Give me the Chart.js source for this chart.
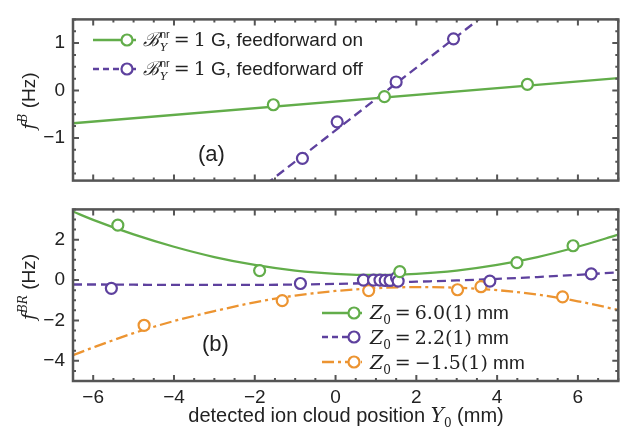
<!DOCTYPE html>
<html>
<head>
<meta charset="utf-8">
<script src="https://cdn.jsdelivr.net/npm/chart.js@4.4.1/dist/chart.umd.min.js"></script>
<style>
  body { margin: 0; background: #fff; }
  #wrap { position: relative; width: 626px; height: 434px; font-family: "Liberation Sans", Arial, sans-serif; color: #222; }
  canvas { position: absolute; left: 0; }
  .lbl { position: absolute; white-space: nowrap; font-size: 19px; line-height: 22px; }
  .m { font-family: "DejaVu Serif", "Liberation Serif", serif; font-style: italic; }
  .r { font-family: "DejaVu Serif", "Liberation Serif", serif; }
  .eq { margin: 0 4px; }
  .ss { display: inline-flex; flex-direction: column; font-size: 11px; line-height: 13px; vertical-align: 8px; margin-left: 1px; }
  .rot { transform: translate(-50%, -50%) rotate(-90deg); }
  sub { font-size: 12px; }
  sup { font-size: 12px; }
</style>
</head>
<body>
<div id="wrap">
  <canvas id="top" width="626" height="200" style="top:0"></canvas>
  <canvas id="bot" width="626" height="244" style="top:190px"></canvas>

  <div class="lbl rot" style="left:26px; top:101px;"><span class="m">f</span><sup class="m">B</sup> (Hz)</div>
  <div class="lbl rot" style="left:26px; top:287px;"><span class="m">f</span><sup class="m">BR</sup> (Hz)</div>
  <div class="lbl" style="left:346px; top:404px; transform:translateX(-50%); font-size:20px;">detected ion cloud position <span class="m">Y</span><sub class="r">0</sub> (mm)</div>

  <div class="lbl" style="left:143px; top:28px;"><span class="m">ℬ</span><span class="ss"><span>nr</span><span class="m">Y</span></span><span class="r eq">=</span><span class="r">1</span> G, feedforward on</div>
  <div class="lbl" style="left:143px; top:57px;"><span class="m">ℬ</span><span class="ss"><span>nr</span><span class="m">Y</span></span><span class="r eq">=</span><span class="r">1</span> G, feedforward off</div>

  <div class="lbl" style="left:370px; top:301px;"><span class="m">Z</span><sub class="r">0</sub><span class="r eq">=</span><span class="r">6.0(1)</span> mm</div>
  <div class="lbl" style="left:370px; top:326px;"><span class="m">Z</span><sub class="r">0</sub><span class="r eq">=</span><span class="r">2.2(1)</span> mm</div>
  <div class="lbl" style="left:370px; top:351px;"><span class="m">Z</span><sub class="r">0</sub><span class="r eq">=</span><span class="r">−1.5(1)</span> mm</div>

  <div class="lbl" style="left:198px; top:141px; font-size:22px; line-height:26px;">(a)</div>
  <div class="lbl" style="left:202px; top:331px; font-size:22px; line-height:26px;">(b)</div>
</div>

<script>
// colours
const GREEN = '#62ad4a';
const PURPLE = '#5e419e';
const ORANGE = '#ec9431';

// shared x axis
const xRange = [-6.5, 7];
const xTicks = [-6, -4, -2, 0, 2, 4, 6];

// panel (a): f^B
const aRange = [-1.9, 1.5];
const aTicks = [-1, 0, 1];
const onX = [-1.54, 1.21, 4.75];
const onY = [-0.30, -0.13, 0.13];
const onFitX = [-6.5, 7];
const onFitY = [-0.69, 0.26];
const offX = [-0.82, 0.04, 1.50, 2.92];
const offY = [-1.43, -0.66, 0.18, 1.09];
const offFitX = [-2, 4];
const offFitY = [-2.16, 1.80];

// panel (b): f^BR
const bRange = [-5, 3.5];
const bTicks = [-4, -2, 0, 2];
const z60X = [-5.39, -1.88, 1.59, 4.49, 5.88];
const z60Y = [2.72, 0.47, 0.42, 0.86, 1.70];
const z22X = [-5.55, -0.87, 0.69, 0.94, 1.10, 1.23, 1.35, 1.51, 1.55, 3.82, 6.33];
const z22Y = [-0.41, -0.17, 0.0, 0.0, 0.0, -0.02, -0.02, 0.12, -0.05, -0.05, 0.31];
const z15X = [-4.74, -1.32, 0.82, 3.02, 3.60, 5.62];
const z15Y = [-2.24, -1.02, -0.52, -0.48, -0.33, -0.83];
// fitted curves
const curveX = [-6.5, -6, -5, -4, -3, -2, -1, 0, 1, 2, 3, 4, 5, 6, 7];
const z60Fit = [3.39, 2.98, 2.26, 1.65, 1.14, 0.75, 0.47, 0.31, 0.25, 0.31, 0.47, 0.75, 1.14, 1.65, 2.25];
const z22Fit = [-0.22, -0.22, -0.23, -0.24, -0.24, -0.24, -0.22, -0.19, -0.14, -0.08, -0.02, 0.06, 0.15, 0.26, 0.38];
const z15Fit = [-3.72, -3.34, -2.63, -2.03, -1.54, -1.10, -0.77, -0.54, -0.40, -0.35, -0.38, -0.50, -0.72, -1.05, -1.48];

const pts = (xs, ys) => xs.map((x, i) => ({ x: x, y: ys[i] }));
const minus = v => String(v).replace('-', '\u2212');

function pointSet(xs, ys, color) {
  return {
    data: pts(xs, ys), showLine: false, order: 0,
    pointRadius: 5.5, pointHoverRadius: 5.5, pointBorderWidth: 2.2,
    pointBorderColor: color, pointBackgroundColor: '#fff'
  };
}
function lineSet(xs, ys, color, dash) {
  return {
    data: pts(xs, ys), showLine: true, order: 1, pointRadius: 0,
    borderColor: color, borderWidth: 2.3, borderDash: dash || [],
    tension: 0.4, cubicInterpolationMode: 'monotone'
  };
}

// frame, inward ticks and legend samples
const frameTicks = {
  id: 'frameTicks',
  afterDatasetsDraw(chart, args, opts) {
    const { ctx, chartArea: a, scales } = chart;
    const xs = scales.x, ys = scales.y;
    ctx.save();
    ctx.strokeStyle = '#555';
    ctx.lineWidth = 2;
    ctx.beginPath();
    for (let v = -6.5; v <= 7.001; v += 0.5) {
      const p = xs.getPixelForValue(v);
      const len = xTicks.includes(v) ? 6 : 3;
      ctx.moveTo(p, a.top); ctx.lineTo(p, a.top + len);
      ctx.moveTo(p, a.bottom); ctx.lineTo(p, a.bottom - len);
    }
    const [lo, hi] = opts.range;
    for (let v = Math.ceil(lo / opts.minor) * opts.minor; v <= hi + 1e-6; v += opts.minor) {
      const p = ys.getPixelForValue(v);
      const len = opts.ticks.some(t => Math.abs(t - v) < 1e-6) ? 6 : 3;
      ctx.moveTo(a.left, p); ctx.lineTo(a.left + len, p);
      ctx.moveTo(a.right, p); ctx.lineTo(a.right - len, p);
    }
    ctx.stroke();
    ctx.lineWidth = 2.5;
    ctx.strokeRect(a.left, a.top, a.right - a.left, a.bottom - a.top);

    // legend samples
    opts.legend.forEach(item => {
      ctx.strokeStyle = item.color;
      ctx.lineWidth = 2.3;
      ctx.setLineDash(item.dash || []);
      ctx.beginPath();
      ctx.moveTo(item.x0, item.y); ctx.lineTo(item.x1, item.y);
      ctx.stroke();
      ctx.setLineDash([]);
      ctx.lineWidth = 2.2;
      ctx.fillStyle = '#fff';
      ctx.beginPath();
      ctx.arc(item.cx, item.y, 5.5, 0, Math.PI * 2);
      ctx.fill(); ctx.stroke();
    });
    ctx.restore();
  }
};

const tickFont = { family: '"Liberation Sans", Arial, sans-serif', size: 19 };

function makeChart(id, datasets, yRange, yTicks, minor, legend, showX) {
  return new Chart(document.getElementById(id), {
    type: 'scatter',
    data: { datasets: datasets },
    options: {
      responsive: false,
      animation: false,
      events: [],
      layout: { padding: { top: 10, bottom: showX ? 0 : 10, left: 0, right: 1 } },
      plugins: {
        legend: { display: false },
        tooltip: { enabled: false },
        frameTicks: { range: yRange, ticks: yTicks, minor: minor, legend: legend }
      },
      scales: {
        x: {
          type: 'linear', min: xRange[0], max: xRange[1],
          display: showX,
          afterBuildTicks: s => { s.ticks = xTicks.map(v => ({ value: v })); },
          afterFit: s => { s.height = showX ? 53 : 0; },
          grid: { display: false, drawTicks: false },
          border: { display: false },
          ticks: { font: tickFont, color: '#222', padding: 5, maxRotation: 0, callback: minus }
        },
        y: {
          type: 'linear', min: yRange[0], max: yRange[1],
          afterBuildTicks: s => { s.ticks = yTicks.map(v => ({ value: v })); },
          afterFit: s => { s.width = 73; },
          grid: { display: false, drawTicks: false },
          border: { display: false },
          ticks: { font: tickFont, color: '#222', padding: 8, callback: minus }
        }
      }
    },
    plugins: [frameTicks]
  });
}

makeChart('top', [
  lineSet(onFitX, onFitY, GREEN),
  lineSet(offFitX, offFitY, PURPLE, [9, 5]),
  pointSet(onX, onY, GREEN),
  pointSet(offX, offY, PURPLE)
], aRange, aTicks, 0.25, [
  { x0: 93, x1: 136, cx: 127, y: 40, color: GREEN },
  { x0: 93, x1: 136, cx: 127, y: 69, color: PURPLE, dash: [6, 4] }
], false);

makeChart('bot', [
  lineSet(curveX, z60Fit, GREEN),
  lineSet(curveX, z22Fit, PURPLE, [9, 5]),
  lineSet(curveX, z15Fit, ORANGE, [12, 4, 3, 4]),
  pointSet(z60X, z60Y, GREEN),
  pointSet(z22X, z22Y, PURPLE),
  pointSet(z15X, z15Y, ORANGE)
], bRange, bTicks, 0.5, [
  { x0: 322, x1: 362, cx: 354, y: 123, color: GREEN },
  { x0: 322, x1: 362, cx: 354, y: 147, color: PURPLE, dash: [6, 4] },
  { x0: 322, x1: 362, cx: 354, y: 172, color: ORANGE, dash: [12, 4, 3, 4] }
], true);
</script>
</body>
</html>
